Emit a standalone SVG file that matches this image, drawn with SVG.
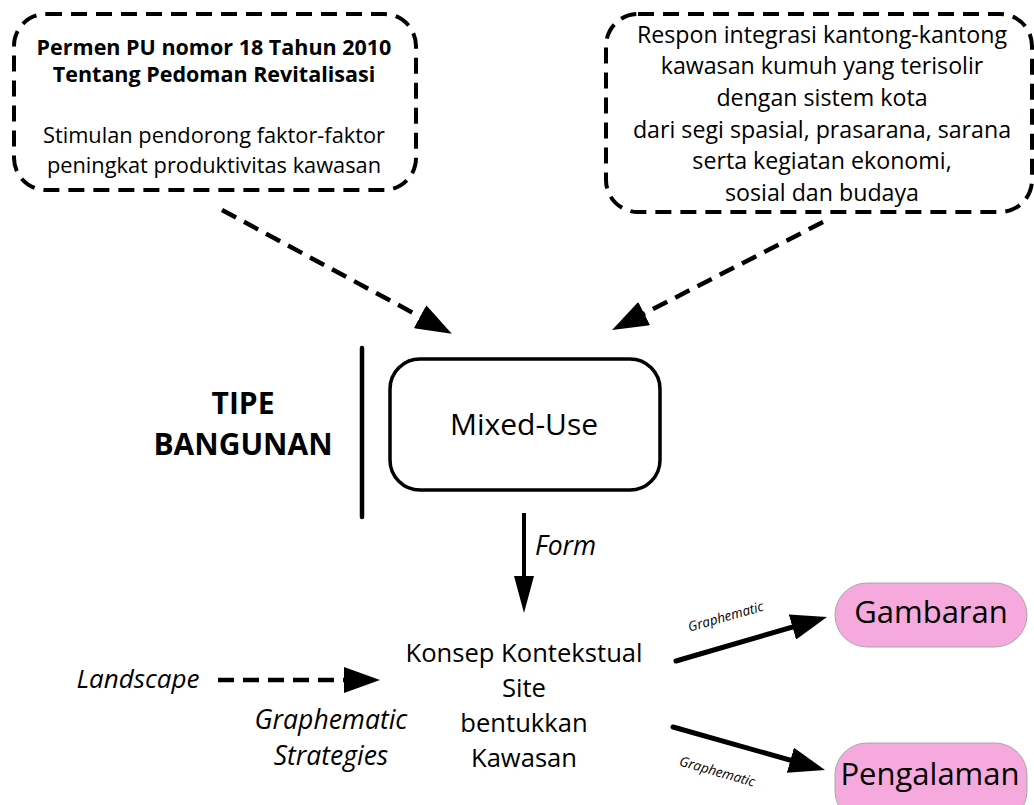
<svg xmlns="http://www.w3.org/2000/svg" width="1034" height="805" viewBox="0 0 1034 805">
<style>
.t{font-family:"Open Sans","Noto Sans","Liberation Sans",sans-serif;fill:#000;text-anchor:middle}
.b{font-weight:bold}
.i{font-style:italic}
.dbox{fill:none;stroke:#000;stroke-width:4;stroke-dasharray:16 9}
.dl{fill:none;stroke:#000;stroke-width:4.5;stroke-dasharray:16 9}
.sl{fill:none;stroke:#000;stroke-width:5;stroke-linecap:round}
.pill{fill:#F6A9DD;stroke:#A8A8A8;stroke-width:1}
</style>
<defs>
<marker id="ah" markerUnits="userSpaceOnUse" viewBox="0 0 36 26" refX="26" refY="13" markerWidth="36" markerHeight="26" orient="auto"><path d="M0,0 L36,13 L0,26 z" fill="#000"/></marker>
<marker id="ahn" markerUnits="userSpaceOnUse" viewBox="0 0 37 20" refX="27" refY="10" markerWidth="37" markerHeight="20" orient="auto"><path d="M0,0 L37,10 L0,20 z" fill="#000"/></marker>
</defs>

<g id="connectors">
<line class="dl" x1="222" y1="210" x2="443" y2="329" marker-end="url(#ah)"/>
<line class="dl" x1="823" y1="222" x2="621" y2="325.4" marker-end="url(#ah)"/>
<line class="dl" x1="218" y1="680" x2="370" y2="680" marker-end="url(#ah)"/>
<line x1="524" y1="513" x2="524" y2="603" stroke="#000" stroke-width="4" marker-end="url(#ahn)"/>
<line class="sl" x1="676" y1="661" x2="817.4" y2="619.8" marker-end="url(#ah)"/>
<line class="sl" x1="673" y1="727" x2="815.4" y2="767.3" marker-end="url(#ah)"/>
<text class="t i" font-size="26.5" x="535" y="555" style="text-anchor:start">Form</text>
<text class="t i" font-size="13.5" transform="translate(727,621) rotate(-16)">Graphematic</text>
<text class="t i" font-size="13.5" transform="translate(716,776) rotate(16)">Graphematic</text>
</g>

<g id="node-permen">
<rect class="dbox" x="14" y="14" width="402" height="176" rx="32"/>
<text class="t b" font-size="21.5" x="214" y="55">Permen PU nomor 18 Tahun 2010</text>
<text class="t b" font-size="21.5" x="214" y="82">Tentang Pedoman Revitalisasi</text>
<text class="t" font-size="21.8" x="214" y="143">Stimulan pendorong faktor-faktor</text>
<text class="t" font-size="21.8" x="214" y="173">peningkat produktivitas kawasan</text>
</g>

<g id="node-respon">
<rect class="dbox" x="606" y="14" width="426" height="198" rx="32"/>
<text class="t" font-size="23.2" x="822" y="43">Respon integrasi kantong-kantong</text>
<text class="t" font-size="23.2" x="822" y="74">kawasan kumuh yang terisolir</text>
<text class="t" font-size="23.2" x="822" y="106">dengan sistem kota</text>
<text class="t" font-size="23.2" x="822" y="138">dari segi spasial, prasarana, sarana</text>
<text class="t" font-size="23.2" x="822" y="169">serta kegiatan ekonomi,</text>
<text class="t" font-size="23.2" x="822" y="201">sosial dan budaya</text>
</g>

<g id="node-tipe">
<text class="t b" font-size="30" x="243" y="414">TIPE</text>
<text class="t b" font-size="30" x="243" y="455">BANGUNAN</text>
<line x1="362" y1="348" x2="362" y2="517" stroke="#000" stroke-width="4.5" stroke-linecap="round"/>
</g>

<g id="node-mixeduse">
<rect x="390" y="359" width="270" height="131" rx="30" fill="#fff" stroke="#000" stroke-width="3.5"/>
<text class="t" font-size="30" x="524" y="435">Mixed-Use</text>
</g>

<g id="node-konsep">
<text class="t" font-size="25.6" x="524" y="662">Konsep Kontekstual</text>
<text class="t" font-size="25.6" x="524" y="697">Site</text>
<text class="t" font-size="25.6" x="524" y="732">bentukkan</text>
<text class="t" font-size="25.6" x="524" y="767">Kawasan</text>
</g>

<g id="node-landscape">
<text class="t i" font-size="26" x="138" y="688">Landscape</text>
</g>

<g id="node-strategies">
<text class="t i" font-size="26.5" x="331" y="729">Graphematic</text>
<text class="t i" font-size="26.5" x="331" y="765">Strategies</text>
</g>

<g id="node-gambaran">
<rect class="pill" x="835" y="583" width="192" height="64" rx="32"/>
<text class="t" font-size="31" x="931" y="623">Gambaran</text>
</g>

<g id="node-pengalaman">
<rect class="pill" x="835" y="743" width="192" height="80" rx="32"/>
<text class="t" font-size="31" x="930" y="785">Pengalaman</text>
</g>
</svg>
